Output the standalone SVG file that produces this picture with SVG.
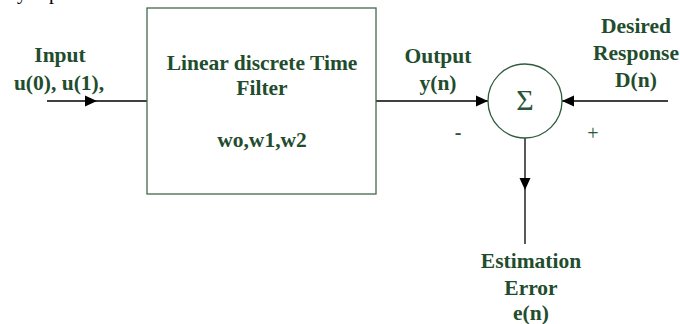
<svg xmlns="http://www.w3.org/2000/svg" width="680" height="324" viewBox="0 0 680 324">
<style>
.t{font-family:"Liberation Serif","Times New Roman",serif;font-weight:bold;font-size:21.5px;fill:#1f4d2e;text-anchor:middle}
.s{font-family:"Liberation Serif","Times New Roman",serif;fill:#2a5536;text-anchor:middle}
.ln{stroke:#000;stroke-width:1.3;fill:none}
.ah{fill:#000}
</style>
<rect width="680" height="324" fill="#fff"/>
<text x="17" y="-1" style="font-family:'Liberation Serif',serif;font-size:20px" fill="#000">y</text>
<text x="49" y="-1" style="font-family:'Liberation Serif',serif;font-size:20px" fill="#000">p</text>
<g id="connectors">
<line class="ln" x1="47" y1="101" x2="147" y2="101"/>
<polygon class="ah" points="97,101 85,95.5 85,106.5"/>
<line class="ln" x1="376" y1="101" x2="488" y2="101"/>
<polygon class="ah" points="488,101 476,95.5 476,106.5"/>
<line class="ln" x1="668" y1="101" x2="562" y2="101"/>
<polygon class="ah" points="562,101 574,95.5 574,106.5"/>
<line class="ln" x1="525" y1="138" x2="525" y2="244"/>
<polygon class="ah" points="525,190 519.5,178 530.5,178"/>
</g>
<g id="input">
<text class="t" x="60" y="62">Input</text>
<text class="t" x="59" y="90">u(0), u(1),</text>
</g>
<g id="filter">
<rect x="147" y="8" width="229" height="186" fill="none" stroke="#46684e" stroke-width="1.3"/>
<text class="t" x="262" y="70">Linear discrete Time</text>
<text class="t" x="262" y="95">Filter</text>
<text class="t" x="262" y="147">wo,w1,w2</text>
</g>
<g id="output">
<text class="t" x="438" y="63">Output</text>
<text class="t" x="438" y="90">y(n)</text>
</g>
<g id="sum">
<circle cx="525" cy="101" r="37" fill="none" stroke="#2f5b3c" stroke-width="1.3"/>
<text class="s" x="525" y="110" font-size="30">Σ</text>
<text class="s" x="458" y="139" font-size="20" font-weight="bold">-</text>
<text class="s" x="593" y="140" font-size="20">+</text>
</g>
<g id="desired">
<text class="t" x="636" y="33">Desired</text>
<text class="t" x="636" y="60">Response</text>
<text class="t" x="636" y="87">D(n)</text>
</g>
<g id="error">
<text class="t" x="531" y="268">Estimation</text>
<text class="t" x="531" y="295">Error</text>
<text class="t" x="531" y="320">e(n)</text>
</g>
</svg>
